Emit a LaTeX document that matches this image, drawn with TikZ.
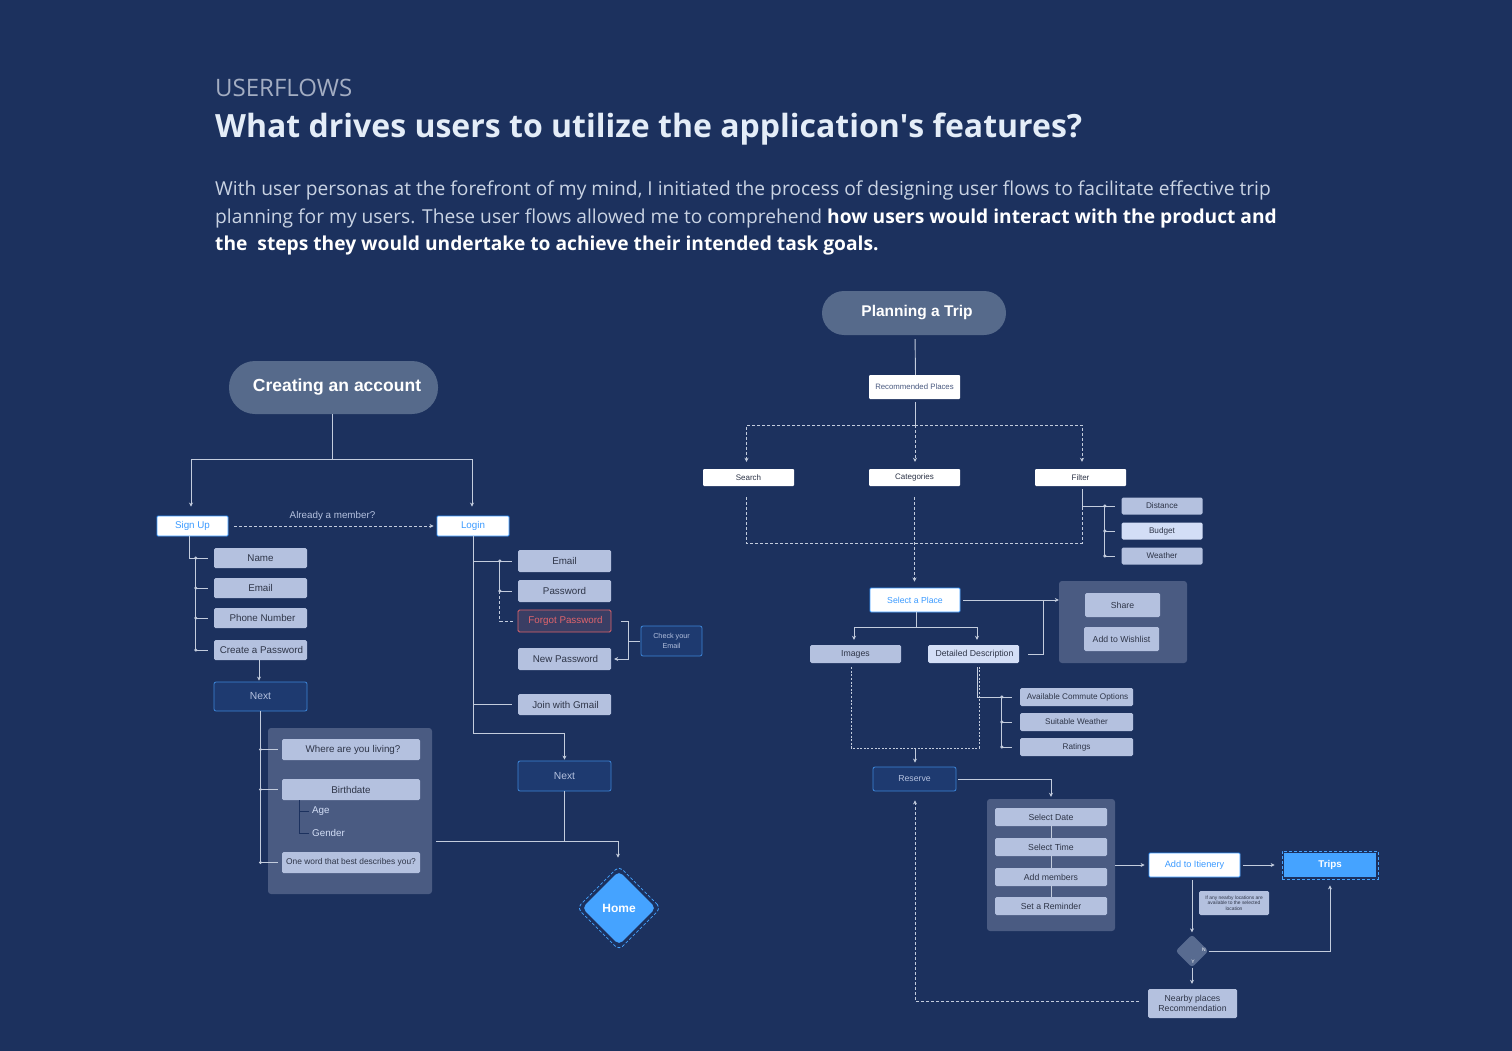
\documentclass[tikz,border=0pt]{standalone}
\usepackage{fontspec}
\setmainfont{Open Sans}
\newfontfamily\df{Liberation Sans}
\usetikzlibrary{arrows.meta,shapes.geometric}
\definecolor{bgc}{HTML}{1C315E}
\definecolor{pillc}{HTML}{566A8B}
\definecolor{lbc}{HTML}{B4C1DF}
\definecolor{lbc2}{HTML}{D3DEF6}
\definecolor{contc}{HTML}{4A5B82}
\definecolor{linec}{HTML}{C3CCDD}
\definecolor{bluet}{HTML}{3C9BFF}
\definecolor{nextf}{HTML}{1E3A70}
\definecolor{nextb}{HTML}{3D85D8}
\definecolor{homec}{HTML}{45A3FF}
\definecolor{txtd}{HTML}{2E3548}
\definecolor{redc}{HTML}{E0646C}
\definecolor{forgf}{HTML}{3A3E64}
\definecolor{headg}{HTML}{A3ADC2}
\definecolor{titlec}{HTML}{E4EDF8}
\definecolor{parac}{HTML}{C9D3E3}
\definecolor{recc}{HTML}{4A5A80}
\definecolor{diac}{HTML}{586B90}
\tikzset{
  fs/.style={font=\df\fontsize{#1}{#1}\selectfont},
  lbox/.style={fill=lbc, rounded corners=1.5pt, inner sep=0pt, text=txtd, fs=9.8},
  lbox2/.style={lbox, fill=lbc2},
  wbox/.style={fill=white, draw=bluet, line width=0.9pt, rounded corners=1pt, inner sep=0pt, text=bluet, fs=9.8},
  nbox/.style={fill=white, rounded corners=1pt, inner sep=0pt, text=txtd, fs=8},
  nextbox/.style={fill=nextf, draw=nextb, line width=0.8pt, rounded corners=2pt, inner sep=0pt, text=lbc, fs=10.3},
  cont/.style={fill=contc, rounded corners=3pt, inner sep=0pt},
  pill/.style={fill=pillc, inner sep=0pt, text=white, font=\df\bfseries\fontsize{#1}{#1}\selectfont},
  conn/.style={draw=linec, line width=0.9pt},
  arr/.style={conn, -{Stealth[length=4pt,width=4pt]}},
  dsh/.style={conn, dash pattern=on 3pt off 2pt},
  dtt/.style={conn, dash pattern=on 2pt off 1.6pt},
  treec/.style={draw=bgc, line width=0.9pt},
}
\begin{document}
\begin{tikzpicture}[x=1pt,y=-1pt]
\useasboundingbox (0,0) rectangle (1512,1051);
\fill[bgc] (0,0) rectangle (1512,1051);

% ---------- header ----------
\node[anchor=base west, inner sep=0, text=headg, font=\fontsize{24}{28}\selectfont] (hdr) at (215,97) {USERFLOWS};
\node[anchor=base west, inner sep=0, text=titlec, font=\bfseries\fontsize{32}{36}\selectfont] (ttl) at (215,138) {What drives users to utilize the application\textquotesingle s features?};
\node[anchor=base west, inner sep=0, text=parac, font=\fontsize{19.2}{24}\selectfont] (p1) at (215,196) {With user personas at the forefront of my mind, I initiated the process of designing user flows to facilitate effective trip};
\node[anchor=base west, inner sep=0, text=parac, font=\fontsize{19.2}{24}\selectfont] (p2) at (215,223) {planning for my users. These user flows allowed me to comprehend {\color{white}\bfseries how users would interact with the product and}};
\node[anchor=base west, inner sep=0, text=white, font=\bfseries\fontsize{19.2}{24}\selectfont] (p3) at (215,250) {the\ \ steps they would undertake to achieve their intended task goals.};

% ---------- Creating an account ----------
\node[pill=17.5, rounded corners=26pt, minimum width=209pt, minimum height=53pt] (pillA) at (333.5,387.5) {\hspace{7pt}Creating an account};
\node[wbox, minimum width=71pt, minimum height=20pt] (signup) at (192.5,526) {Sign Up};
\node[wbox, minimum width=72pt, minimum height=20pt] (login) at (473,526) {Login};
\coordinate (jA) at (332,459);
\draw[conn] (pillA.south -| jA) -- (jA);
\draw[arr, shorten >=9pt] (jA) -| ([xshift=-1.5pt]signup.north);
\draw[arr, shorten >=9pt] (jA) -| ([xshift=-1pt]login.north);
\draw[dsh, -{Stealth[length=4pt,width=4pt]}, shorten <=6pt, shorten >=3pt] (signup.east) -- (login.west)
  node[midway, above=1.5pt, text=lbc, fs=9.8] (already) {Already a member?};

\node[lbox, minimum width=93pt, minimum height=20pt] (name) at (260.5,558) {Name};
\node[lbox, minimum width=93pt, minimum height=20pt] (email1) at (260.5,588) {Email};
\node[lbox, minimum width=93pt, minimum height=20pt] (phone) at (260.5,618) {\hspace{4pt}Phone Number};
\node[lbox, minimum width=93pt, minimum height=20pt] (cpass) at (260.5,650) {\hspace{2pt}Create a Password};
\draw[conn, shorten >=6pt] ([xshift=-3.5pt]signup.south) |- (name.west);
\draw[conn] ([xshift=-18pt]name.west) -- ([xshift=-18pt]cpass.west);
\foreach \n in {name,email1,phone,cpass}{
  \draw[conn] ([xshift=-18pt]\n.west) -- ([xshift=-6pt]\n.west);
  \fill[linec] ([xshift=-18pt]\n.west) circle (1.7pt);
}
\node[nextbox, minimum width=93pt, minimum height=29pt] (next1) at (260.5,696.5) {Next};
\draw[arr, shorten >=1pt] ([xshift=-1.5pt]cpass.south) -- ([xshift=-1.5pt]next1.north);

\node[cont, minimum width=164pt, minimum height=166pt] (cont1) at (350,811) {};
\node[lbox, minimum width=138pt, minimum height=21pt] (where) at (351,749.5) {\hspace{4pt}Where are you living?};
\node[lbox, minimum width=138pt, minimum height=21pt] (birth) at (351,789.5) {Birthdate};
\node[anchor=west, inner sep=0, text=lbc2, fs=9.8] (age) at (312,811) {Age};
\node[anchor=west, inner sep=0, text=lbc2, fs=9.8] (gender) at (312,833) {Gender};
\node[lbox, minimum width=138pt, minimum height=21pt, fs=8.4] (oneword) at (351,862.5) {One word that best describes you?};
\draw[treec] ([xshift=-52pt]birth.south) |- ([xshift=-3pt]gender.west);
\draw[treec] ([xshift=-52pt]birth.south |- age.west) -- ([xshift=-3pt]age.west);
\draw[conn] (next1.south) -- (next1.south |- oneword.west);
\foreach \n in {where,birth,oneword}{
  \draw[conn] (next1.south |- \n.west) -- ([xshift=-4pt]\n.west);
  \fill[linec] (next1.south |- \n.west) circle (1.7pt);
}

% login side
\node[lbox, minimum width=93pt, minimum height=22pt] (lemail) at (564.5,561) {Email};
\node[lbox, minimum width=93pt, minimum height=22pt] (lpass) at (564.5,591) {Password};
\node[lbox, fill=forgf, draw=redc, line width=0.8pt, text=redc, minimum width=93pt, minimum height=22pt] (forgot) at (564.5,621) {\hspace{2pt}Forgot Password};
\node[lbox, minimum width=93pt, minimum height=22pt] (newpass) at (564.5,659) {\hspace{2pt}New Password};
\node[lbox, minimum width=93pt, minimum height=21pt] (gmail) at (564.5,704.5) {\hspace{2pt}Join with Gmail};
\node[nextbox, minimum width=61pt, minimum height=30pt, align=center, font=\df\fontsize{7.2}{10}\selectfont] (check) at (671.5,641) {Check your\\Email};
\node[nextbox, minimum width=93pt, minimum height=30pt] (next2) at (564.5,776) {Next};

\draw[arr, shorten >=1pt] (login.south) -- ++(0,197) -| (next2.north);
\draw[conn] (login.south |- lemail.west) -- ([xshift=-6pt]lemail.west);
\draw[conn] (login.south |- gmail.west) -- ([xshift=-6pt]gmail.west);
\draw[conn] ([xshift=-18pt]lemail.west) -- ([xshift=-18pt]lpass.west) -- ([xshift=-6pt]lpass.west);
\fill[linec] ([xshift=-18pt]lemail.west) circle (1.7pt);
\fill[linec] ([xshift=-18pt]lpass.west) circle (1.7pt);
\draw[dsh] ([xshift=-18pt]lpass.west) |- ([xshift=-4pt]forgot.west);
\draw[arr] ([xshift=10pt]forgot.east) -- ++(7,0) |- ([xshift=3pt]newpass.east);
\draw[conn] ([xshift=17pt]forgot.east |- check.west) -- ([xshift=-1pt]check.west);

\node[diamond, fill=homec, minimum width=74pt, minimum height=74pt, inner sep=0, rounded corners=5pt, text=white, font=\df\bfseries\fontsize{12}{13}\selectfont] (home) at (619,908) {Home};
\node[diamond, draw=homec, dash pattern=on 3pt off 2pt, line width=0.8pt, minimum width=84pt, minimum height=84pt, inner sep=0, rounded corners=5pt] (homeo) at (619,908) {};
\coordinate (hL) at (436,841);
\draw[conn] (next2.south) -- (next2.south |- hL);
\draw[arr, shorten >=8pt] (hL) -| ([xshift=-1pt]homeo.north);

% ---------- Planning a Trip ----------
\node[pill=15.5, rounded corners=22pt, minimum width=184pt, minimum height=44pt] (pillB) at (914,313) {\hspace{6pt}Planning a Trip};
\node[nbox, minimum width=91pt, minimum height=24pt, text=recc, fs=7.8] (rec) at (914.5,387) {Recommended Places};
\draw[conn, shorten <=4pt] ([xshift=1pt]pillB.south) -- ([xshift=1pt]rec.north);
\coordinate (rj) at (915,425);
\draw[conn, shorten <=3pt] ([xshift=0.5pt]rec.south) -- (rj);
\node[nbox, minimum width=91pt, minimum height=17pt] (search) at (748.5,477.5) {Search};
\node[nbox, minimum width=91pt, minimum height=17pt] (cat) at (914.5,477.5) {Categories};
\node[nbox, minimum width=91pt, minimum height=17pt] (filter) at (1080.5,477.5) {Filter};
\draw[dsh, -{Stealth[length=4pt,width=4pt]}, shorten >=7pt] (rj) -| ([xshift=-2pt]search.north);
\draw[dsh, -{Stealth[length=4pt,width=4pt]}, shorten >=7pt] (rj) -| ([xshift=1.5pt]filter.north);
\draw[dsh, -{Stealth[length=4pt,width=4pt]}, shorten >=7pt] (rj) -- ([xshift=0.5pt]cat.north);
\coordinate (botL) at (746,543);
\coordinate (botR) at (1082,543);
\coordinate (fj) at (1082,506);
\draw[dsh] ([xshift=-2.5pt,yshift=-11pt]search.south) -- (botL) -- (botR) -- (fj);

\node[lbox, minimum width=81pt, minimum height=17pt, fs=8.2] (dist) at (1162,506) {Distance};
\node[lbox2, minimum width=81pt, minimum height=17pt, fs=8.2] (budget) at (1162,531) {Budget};
\node[lbox, minimum width=81pt, minimum height=17pt, fs=8.2] (weather) at (1162,556) {Weather};
\draw[conn] ([xshift=1.5pt,yshift=-3pt]filter.south) -- (fj) -- ([xshift=-6pt]dist.west);
\draw[conn] ([xshift=-16.5pt]dist.west) -- ([xshift=-16.5pt]weather.west);
\foreach \n in {dist,budget,weather}{
  \draw[conn] ([xshift=-16.5pt]\n.west) -- ([xshift=-6pt]\n.west);
  \fill[linec] ([xshift=-16.5pt]\n.west) circle (1.7pt);
}

\node[wbox, minimum width=90pt, minimum height=24pt, fs=8.7] (sel) at (915,600) {Select a Place};
\draw[dsh, -{Stealth[length=4pt,width=4pt]}, shorten >=6pt] ([yshift=-11pt]cat.south) -- ([xshift=-0.5pt]sel.north);

\node[cont, minimum width=128pt, minimum height=82pt] (cont2) at (1123,622) {};
\node[lbox, minimum width=75pt, minimum height=24pt, fs=8.7] (share) at (1122.5,605) {Share};
\node[lbox, minimum width=75pt, minimum height=24pt, fs=8.7] (wish) at (1121.5,639) {Add to Wishlist};
\draw[arr] ([xshift=3pt]sel.east) -- (sel.east -| cont2.west);

\node[lbox, minimum width=91pt, minimum height=18pt, fs=8.7] (img) at (855.5,654) {Images};
\node[lbox2, minimum width=91pt, minimum height=18pt, fs=8.7] (desc) at (973.5,654) {\hspace{2pt}Detailed Description};
\coordinate (sj) at (916,627);
\draw[conn] ([xshift=1pt]sel.south) -- (sj);
\draw[arr, shorten >=5pt] (sj) -| ([xshift=-1.5pt]img.north);
\draw[arr, shorten >=5pt] (sj) -| ([xshift=3.5pt]desc.north);
\coordinate (dj) at (1043,600);
\draw[conn] ([xshift=9pt]desc.east) -| (dj);

\node[lbox, minimum width=113pt, minimum height=18pt, fs=8.2] (acom) at (1076.5,697) {\hspace{2pt}Available Commute Options};
\node[lbox, minimum width=113pt, minimum height=18pt, fs=8.2] (sweat) at (1076.5,722) {Suitable Weather};
\node[lbox, minimum width=113pt, minimum height=18pt, fs=8.2] (ratings) at (1076.5,747) {Ratings};
\draw[conn] ([xshift=3.5pt,yshift=-4pt]desc.south) |- ([xshift=-8pt]acom.west);
\draw[conn] ([xshift=-18pt]acom.west) -- ([xshift=-18pt]ratings.west);
\foreach \n in {acom,sweat,ratings}{
  \draw[conn] ([xshift=-18pt]\n.west) -- ([xshift=-8pt]\n.west);
  \fill[linec] ([xshift=-18pt]\n.west) circle (1.7pt);
}
\coordinate (iL) at (851,748);
\coordinate (iR) at (979,748);
\coordinate (iM) at (915,748);
\draw[dtt] ([xshift=-4.5pt,yshift=-4pt]img.south) -- (iL) -- (iR) -- ([xshift=5.5pt,yshift=-4pt]desc.south);

\node[nextbox, minimum width=83pt, minimum height=24pt, fs=8.7] (res) at (914.5,779) {Reserve};
\draw[arr, shorten >=4pt] (iM) -- ([xshift=0.5pt]res.north);

\node[cont, minimum width=128pt, minimum height=132pt] (cont3) at (1051,865) {};
\node[lbox, minimum width=112pt, minimum height=18pt, fs=8.7] (sdate) at (1051,817) {Select Date};
\node[lbox, minimum width=112pt, minimum height=18pt, fs=8.7] (stime) at (1051,847) {Select Time};
\node[lbox, minimum width=112pt, minimum height=18pt, fs=8.7] (amem) at (1051,877) {Add members};
\node[lbox, minimum width=112pt, minimum height=18pt, fs=8.7] (srem) at (1051,906) {Set a Reminder};
\draw[conn] (sdate.south) -- (stime.north);
\draw[conn] (stime.south) -- (amem.north);
\draw[conn] (amem.south) -- (srem.north);
\draw[arr, shorten >=2pt] ([xshift=2pt]res.east) -| (cont3.north);

\node[wbox, minimum width=91pt, minimum height=24pt, fs=9.2] (itin) at (1194.5,865) {Add to Itienery};
\node[fill=homec, minimum width=92pt, minimum height=24pt, inner sep=0, text=white, font=\df\bfseries\fontsize{9.8}{11}\selectfont] (trips) at (1330,865) {Trips};
\node[draw=homec, dash pattern=on 3pt off 2pt, line width=0.8pt, minimum width=96pt, minimum height=28pt, inner sep=0] (tripso) at (1330,865) {};
\draw[arr] (cont3.east) -- ([xshift=-4pt]itin.west);
\draw[arr] ([xshift=3pt]itin.east) -- ([xshift=-7pt]tripso.west);

\node[lbox, minimum width=70pt, minimum height=24pt, align=center, font=\df\fontsize{4.9}{5.7}\selectfont] (note) at (1234,903) {If any nearby locations are\\available to the selected\\location};
\node[diamond, fill=diac, minimum width=33pt, minimum height=33pt, inner sep=0, rounded corners=3pt] (dia) at (1192,951) {};
\node[text=white, inner sep=0, fs=5] (nlab) at (1204,950) {N};
\node[text=white, inner sep=0, fs=5] (ylab) at (1193,962) {Y};
\draw[arr, shorten >=2pt] ([xshift=-2.5pt,yshift=-3pt]itin.south) -- (dia.north);
\draw[arr, shorten >=6pt] (dia.east) -| (tripso.south);
\node[lbox, minimum width=89pt, minimum height=29pt, align=center, font=\df\fontsize{8.7}{10.5}\selectfont] (near) at (1192.5,1003.5) {Nearby places\\Recommendation};
\draw[arr, shorten >=5pt] (dia.south) -- ([xshift=-0.5pt]near.north);
\draw[dsh, -{Stealth[length=4pt,width=4pt]}, shorten <=9pt, shorten >=9pt] ([yshift=2.5pt]near.west) -| ([xshift=0.5pt]res.south);
\end{tikzpicture}
\end{document}
